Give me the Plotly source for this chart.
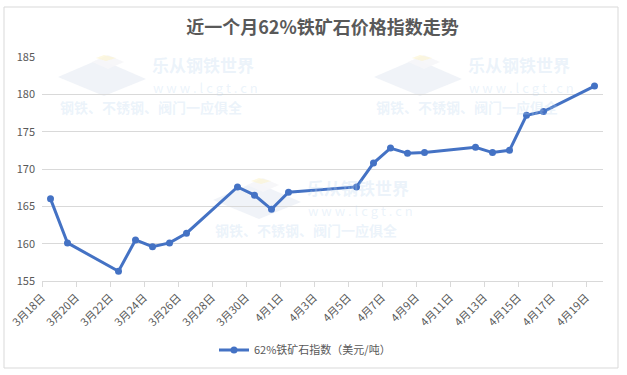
import plotly.graph_objects as go

# ---- data ----
dates = ["2021-03-18", "2021-03-19", "2021-03-22", "2021-03-23", "2021-03-24",
         "2021-03-25", "2021-03-26", "2021-03-29", "2021-03-30", "2021-03-31",
         "2021-04-01", "2021-04-05", "2021-04-06", "2021-04-07", "2021-04-08",
         "2021-04-09", "2021-04-12", "2021-04-13", "2021-04-14", "2021-04-15",
         "2021-04-16", "2021-04-19"]
values = [166.0, 160.1, 156.3, 160.5, 159.6, 160.1, 161.4, 167.6, 166.5, 164.6,
          166.9, 167.6, 170.8, 172.8, 172.1, 172.2, 172.9, 172.2, 172.5, 177.2,
          177.7, 181.1]
series_name = "62%铁矿石指数（美元/吨）"
title_text = "近一个月62%铁矿石价格指数走势"
wm_lines = ["乐从钢铁世界", "w w w . l c g t . c n", "钢铁、不锈钢、阀门一应俱全"]

W, H = 627, 375
L, R, T, B = 42, 24, 57, 94
pw, ph = W - L - R, H - T - B

def px(x):
    return (x - L) / pw

def py(y):
    return (H - B - y) / ph

FONT = "Noto Sans CJK SC, Noto Sans, sans-serif"
GREY = "#595959"
BLUE = "#4472C4"

fig = go.Figure()
fig.add_trace(go.Scatter(
    x=dates, y=values, name=series_name, mode="lines+markers",
    xperiod=86400000, xperiodalignment="middle",
    line=dict(color=BLUE, width=3),
    marker=dict(color=BLUE, size=7),
))

shapes = []
annotations = []
# chart-area border
shapes.append(dict(type="rect", xref="paper", yref="paper",
                   x0=px(4), x1=px(618), y0=py(368), y1=py(7),
                   line=dict(color="#d9d9d9", width=1), fillcolor="rgba(0,0,0,0)",
                   layer="below"))

# watermarks
for ox, oy in [(0, 0), (316, 0), (155, 123)]:
    def pth(pts):
        s = "M " + " L ".join(f"{px(a + ox)},{py(b + oy)}" for a, b in pts) + " Z"
        return s
    shapes.append(dict(type="path", xref="paper", yref="paper",
                       path=pth([(58, 77), (100, 59), (146, 79), (104, 96)]),
                       fillcolor="rgba(226,231,241,0.5)", line=dict(width=0), layer="below"))
    shapes.append(dict(type="path", xref="paper", yref="paper",
                       path=pth([(92, 62), (108, 55), (124, 62), (108, 69)]),
                       fillcolor="rgba(246,246,248,0.9)", line=dict(width=0), layer="below"))
    shapes.append(dict(type="path", xref="paper", yref="paper",
                       path=pth([(96, 58), (104, 55), (116, 58), (106, 61)]),
                       fillcolor="rgba(252,244,205,0.6)", line=dict(width=0), layer="below"))
    wm_col = "rgba(190,215,240,0.3)"
    annotations.append(dict(text="<b>" + wm_lines[0] + "</b>", xref="paper", yref="paper",
                            x=px(150 + ox), y=py(64 + oy), xanchor="left", yanchor="middle",
                            showarrow=False, font=dict(family=FONT, size=17, color=wm_col)))
    annotations.append(dict(text=wm_lines[1], xref="paper", yref="paper",
                            x=px(151 + ox), y=py(87 + oy), xanchor="left", yanchor="middle",
                            showarrow=False, font=dict(family=FONT, size=13, color=wm_col)))
    annotations.append(dict(text="<b>" + wm_lines[2] + "</b>", xref="paper", yref="paper",
                            x=px(58 + ox), y=py(107 + oy), xanchor="left", yanchor="middle",
                            showarrow=False, font=dict(family=FONT, size=14, color=wm_col)))

fig.update_layout(
    width=W, height=H,
    margin=dict(l=L, r=R, t=T, b=B, autoexpand=False),
    paper_bgcolor="white", plot_bgcolor="rgba(0,0,0,0)",
    title=dict(text="<b>" + title_text + "</b>", x=0.5, xref="paper", xanchor="center",
               y=1 - 28 / H, yanchor="middle", yref="container",
               font=dict(family=FONT, size=18, color=GREY)),
    showlegend=True,
    legend=dict(orientation="h", x=px(305), xanchor="center", y=py(350), yanchor="middle",
                font=dict(family=FONT, size=11, color=GREY), bgcolor="rgba(0,0,0,0)"),
    shapes=shapes,
    annotations=annotations,
    font=dict(family=FONT, color=GREY),
)
fig.update_xaxes(
    type="date", range=["2021-03-18", "2021-04-20"], automargin=False,
    tick0="2021-03-18", dtick=2 * 86400000, tickformat="%-m月%-d日",
    tickangle=-45, tickfont=dict(family=FONT, size=11, color=GREY),
    ticks="outside", ticklen=5, tickcolor="#d9d9d9",
    showgrid=False, showline=True, linecolor="#d9d9d9", linewidth=1,
    zeroline=False,
)
fig.update_yaxes(
    range=[155, 185], dtick=5, tick0=155, automargin=False,
    tickfont=dict(family=FONT, size=11, color=GREY),
    showgrid=True, gridcolor="#d9d9d9", gridwidth=1,
    showline=False, zeroline=False, ticks="", ticklabelstandoff=6,
)

fig.write_html("out.html", config={"displayModeBar": False},
               post_script="document.body.style.margin='0';document.body.style.overflow='hidden';")
